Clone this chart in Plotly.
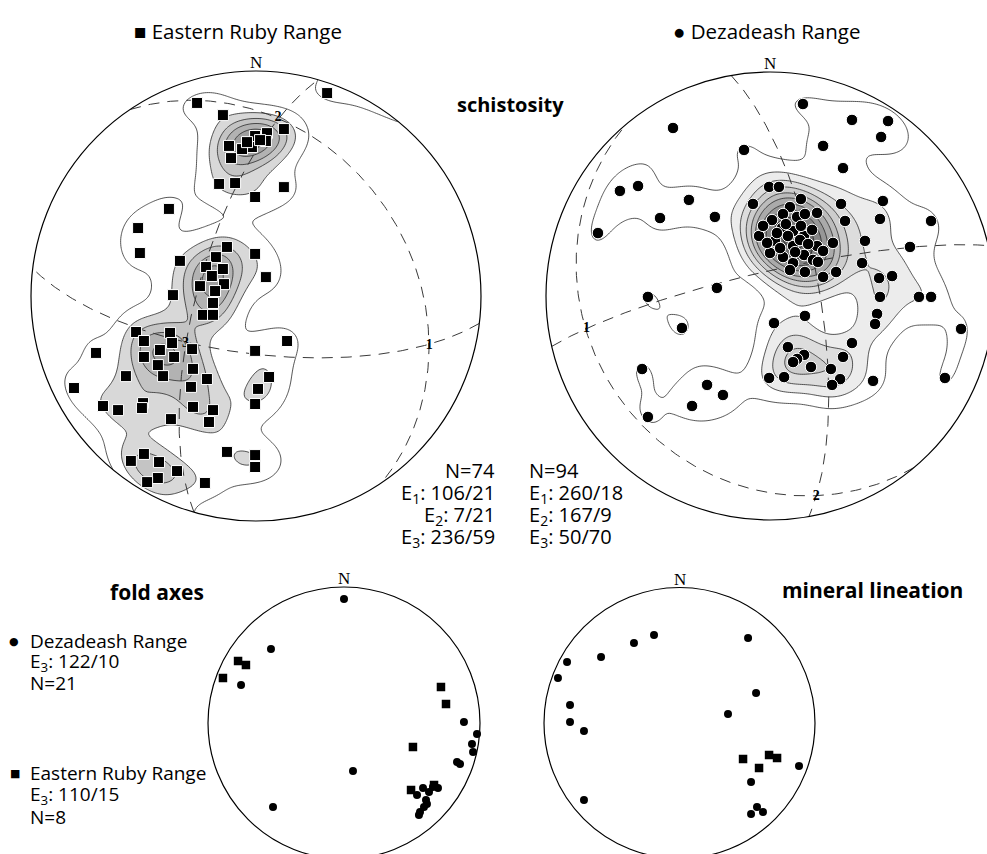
import numpy as np
import plotly.graph_objects as go

W, H = 987, 854

# ---------------------------------------------------------------------------
# Data. Poles / lineations in equal-area (Schmidt) lower-hemisphere coordinates,
# unit primitive radius, x = east, y = north.
# ---------------------------------------------------------------------------
ruby_schist_x = [0.316, -0.262, -0.147, 0.124, 0.049, -0.004, 0.044, -0.018, -0.062, -0.120,
                 -0.111, -0.164, -0.093, -0.004, 0.124, -0.387, -0.524, -0.516, -0.338, -0.129,
                 -0.004, 0.044, -0.178, -0.222, -0.147, -0.196, -0.249, -0.142, -0.369, -0.191,
                 -0.236, -0.191, -0.533, -0.382, -0.498, -0.373, -0.284, -0.711, -0.498, -0.364,
                 -0.436, -0.280, -0.413, -0.578, -0.218, -0.289, -0.809, -0.502, -0.507, -0.680,
                 -0.613, -0.280, -0.191, -0.209, -0.378, -0.004, 0.138, 0.058, 0.009, -0.004,
                 -0.498, -0.556, -0.431, -0.351, -0.436, -0.484, -0.129, -0.004, -0.004, -0.227,
                 0.018, -0.040, -0.182, -0.427]
ruby_schist_y = [0.902, 0.858, 0.804, 0.742, 0.724, 0.711, 0.689, 0.662, 0.653, 0.667,
                 0.613, 0.498, 0.502, 0.440, 0.484, 0.387, 0.302, 0.191, 0.156, 0.218,
                 0.187, 0.084, 0.173, 0.129, 0.120, 0.089, 0.044, 0.053, 0.004, -0.031,
                 -0.084, -0.084, -0.160, -0.164, -0.200, -0.209, -0.236, -0.253, -0.271, -0.271,
                 -0.307, -0.324, -0.356, -0.356, -0.369, -0.404, -0.409, -0.476, -0.498, -0.489,
                 -0.507, -0.493, -0.507, -0.560, -0.547, -0.244, -0.200, -0.360, -0.413, -0.480,
                 -0.702, -0.733, -0.738, -0.778, -0.809, -0.827, -0.693, -0.707, -0.760, -0.831,
                 0.693, 0.684, 0.022, -0.240]

dez_schist_x = [0.147, -0.433, 0.366, 0.527, 0.496, -0.116, 0.237, 0.326, -0.589, -0.670,
                -0.362, -0.768, -0.491, -0.246, -0.004, 0.040, -0.076, 0.138, 0.089, 0.058,
                0.121, 0.156, 0.210, 0.317, 0.335, 0.504, 0.491, 0.719, 0.054, 0.103,
                0.152, -0.049, 0.022, 0.281, 0.424, 0.103, 0.210, 0.237, 0.000, 0.058,
                0.103, 0.152, 0.192, 0.156, 0.237, 0.295, 0.625, 0.411, 0.487, 0.545,
                0.491, 0.665, 0.719, -0.237, -0.545, -0.013, 0.018, 0.156, 0.478, 0.469,
                0.853, -0.393, 0.366, 0.080, 0.152, 0.121, 0.103, 0.326, 0.183, 0.272,
                0.313, 0.277, -0.004, 0.063, 0.460, 0.781, -0.571, -0.281, -0.210, -0.348,
                -0.545, 0.071, 0.134, 0.045, 0.188, 0.009, 0.112, 0.170, 0.080, 0.214,
                0.031, 0.138, 0.089, -0.031]
dez_schist_y = [0.857, 0.750, 0.786, 0.781, 0.710, 0.652, 0.670, 0.571, 0.491, 0.469,
                0.429, 0.281, 0.348, 0.353, 0.487, 0.487, 0.411, 0.433, 0.397, 0.366,
                0.353, 0.366, 0.371, 0.411, 0.335, 0.424, 0.344, 0.335, 0.304, 0.290,
                0.268, 0.268, 0.246, 0.237, 0.246, 0.223, 0.223, 0.201, 0.192, 0.174,
                0.147, 0.183, 0.161, 0.107, 0.085, 0.107, 0.219, 0.147, 0.080, 0.089,
                -0.004, -0.004, -0.004, 0.036, -0.004, 0.237, -0.121, -0.089, -0.080, -0.125,
                -0.147, -0.143, -0.210, -0.228, -0.263, -0.281, -0.295, -0.272, -0.317, -0.326,
                -0.371, -0.397, -0.366, -0.362, -0.379, -0.366, -0.326, -0.397, -0.442, -0.491,
                -0.540, 0.321, 0.250, 0.214, 0.295, 0.339, 0.196, 0.232, 0.268, 0.152,
                0.281, 0.313, 0.116, 0.313]

# Eigenvectors of the schistosity poles (trend / plunge, degrees)
ruby_eig_trend = [106, 7, 236]
ruby_eig_plunge = [21, 21, 59]
dez_eig_trend = [260, 167, 50]
dez_eig_plunge = [18, 9, 70]

# Fold axes
fold_dez_x = [0.000, -0.537, -0.757, 0.882, 0.978, 0.941, 0.949, 0.831, 0.853, 0.066,
              -0.522, 0.581, 0.537, 0.625, 0.691, 0.610, 0.588, 0.559, 0.551, 0.654, 0.603]
fold_dez_y = [0.912, 0.544, 0.279, 0.007, -0.081, -0.154, -0.213, -0.287, -0.301, -0.353,
              -0.618, -0.478, -0.529, -0.507, -0.478, -0.596, -0.618, -0.654, -0.676, -0.471, -0.566]
fold_ruby_x = [-0.779, -0.721, -0.890, 0.713, 0.750, 0.507, 0.493, 0.662]
fold_ruby_y = [0.456, 0.426, 0.331, 0.265, 0.140, -0.176, -0.493, -0.456]
fold_dez_e3 = (122, 10)
fold_ruby_e3 = (110, 15)

# Mineral lineation
lin_dez_x = [-0.188, -0.336, -0.579, -0.830, -0.897, -0.808, -0.808, -0.705, -0.705, 0.506,
             0.565, 0.358, 0.882, 0.528, 0.572, 0.616, 0.528]
lin_dez_y = [0.649, 0.590, 0.487, 0.450, 0.332, 0.133, 0.007, -0.059, -0.568, 0.627,
             0.221, 0.066, -0.317, -0.435, -0.620, -0.657, -0.672]
lin_ruby_x = [0.469, 0.661, 0.720, 0.587]
lin_ruby_y = [-0.266, -0.236, -0.258, -0.332]

# ---------------------------------------------------------------------------
# Stereonet helpers
# ---------------------------------------------------------------------------
SQ2 = np.sqrt(2.0)


def to_vec(x, y):
    """Inverse equal-area projection -> unit vectors (east, north, down)."""
    x = np.asarray(x, float)
    y = np.asarray(y, float)
    r = np.clip(np.hypot(x, y), 0.0, 1.0)
    th = 2.0 * np.arcsin(r / SQ2)
    az = np.arctan2(x, y)
    h = np.sin(th)
    return np.stack([h * np.sin(az), h * np.cos(az), np.cos(th)], axis=-1)


def tp_vec(trend, plunge):
    t, p = np.radians(trend), np.radians(plunge)
    return np.array([np.cos(p) * np.sin(t), np.cos(p) * np.cos(t), np.sin(p)])


def project(v):
    v = np.atleast_2d(v)
    e, n, z = v[:, 0], v[:, 1], np.clip(v[:, 2], -1, 1)
    th = np.arccos(z)
    r = SQ2 * np.sin(th / 2.0)
    h = np.hypot(e, n)
    h = np.where(h < 1e-12, 1.0, h)
    return r * e / h, r * n / h


def great_circle(pole):
    p = pole / np.linalg.norm(pole)
    s = np.cross(p, [0, 0, 1.0])
    s /= np.linalg.norm(s)
    d = np.cross(p, s)
    if d[2] < 0:
        d = -d
    phi = np.linspace(0, np.pi, 241)
    v = np.outer(np.cos(phi), s) + np.outer(np.sin(phi), d)
    return project(v)


def density(px, py, grid, k):
    gx, gy = np.meshgrid(grid, grid)
    G = to_vec(gx.ravel(), gy.ravel())
    P = to_vec(px, py)
    c = np.abs(G @ P.T)
    return np.exp(k * (c - 1.0)).sum(axis=1).reshape(gx.shape)


# ---------------------------------------------------------------------------
# Layout of the four nets (pixel centre and radius)
# ---------------------------------------------------------------------------
nets = {
    "ruby": dict(ax=1, cx=256, cy=296, R=225),
    "dez": dict(ax=2, cx=770, cy=296, R=224),
    "fold": dict(ax=3, cx=344, cy=723, R=136),
    "lin": dict(ax=4, cx=679.5, cy=723, R=135.5),
}

layout = dict(width=W, height=H, margin=dict(l=0, r=0, t=0, b=0),
              paper_bgcolor="white", plot_bgcolor="white", showlegend=False)
shapes, annotations, traces = [], [], []

circ_t = np.linspace(0, 2 * np.pi, 361)

for name, n in nets.items():
    ext = 1.04
    cx, cy, R = n["cx"], n["cy"], n["R"]
    x0, x1 = -min(ext, cx / R), min(ext, (W - cx) / R)
    y0, y1 = -min(ext, (H - cy) / R), min(ext, cy / R)
    n["range"] = (x0, x1, y0, y1)
    sfx = "" if n["ax"] == 1 else str(n["ax"])
    n["xa"], n["ya"] = "x" + sfx, "y" + sfx
    layout["xaxis" + sfx] = dict(domain=[(cx + x0 * R) / W, (cx + x1 * R) / W], range=[x0, x1],
                                 visible=False, fixedrange=True, anchor="y" + sfx)
    layout["yaxis" + sfx] = dict(domain=[1 - (cy - y0 * R) / H, 1 - (cy - y1 * R) / H],
                                 range=[y0, y1], visible=False, fixedrange=True, anchor="x" + sfx)


def px2paper(x, y):
    return x / W, 1 - y / H


# ---------------------------------------------------------------------------
# Contoured schistosity nets
# ---------------------------------------------------------------------------
grid = np.linspace(-1.01, 1.01, 231)
contour_sets = [
    ("ruby", ruby_schist_x, ruby_schist_y, 70,
     [1.0, 2.3, 3.5, 4.7, 6.0],
     [None, "#d8d8d8", "#c4c4c4", "#b2b2b2", "#a0a0a0"]),
    ("dez", dez_schist_x, dez_schist_y, 65,
     [1.05, 2.3, 3.6, 5.0, 6.5, 8.0, 10.0, 12.0, 14.5, 17.0],
     [None, "#ececec", "#dddddd", "#cdcdcd", "#bcbcbc", "#aaaaaa", "#979797", "#848484",
      "#717171", "#5e5e5e"]),
]
for name, xs, ys, k, levels, fills in contour_sets:
    n = nets[name]
    D = density(xs, ys, grid, k)
    for lev, col in zip(levels, fills):
        fc = col if col else "rgba(255,255,255,0)"
        traces.append(go.Contour(
            x=grid, y=grid, z=D, xaxis=n["xa"], yaxis=n["ya"],
            contours=dict(start=lev, end=lev, size=1, coloring="fill", showlines=True),
            colorscale=[[0, "rgba(255,255,255,0)"], [1, fc]],
            line=dict(color="#2b2b2b", width=0.8, smoothing=1.0),
            showscale=False, hoverinfo="skip"))

# Great circles normal to each eigenvector, with eigenvector labels
for name, tr, pl in (("ruby", ruby_eig_trend, ruby_eig_plunge), ("dez", dez_eig_trend, dez_eig_plunge)):
    n = nets[name]
    lx, ly = [], []
    for t, p in zip(tr, pl):
        v = tp_vec(t, p)
        gx, gy = great_circle(v)
        traces.append(go.Scatter(x=gx, y=gy, mode="lines", xaxis=n["xa"], yaxis=n["ya"],
                                 line=dict(color="#3a3a3a", width=1, dash="11px,8px"),
                                 hoverinfo="skip"))
        ex, ey = project(v)
        lx.append(ex[0])
        ly.append(ey[0])
    traces.append(go.Scatter(x=lx, y=ly, mode="text", text=["1", "2", "3"],
                             xaxis=n["xa"], yaxis=n["ya"],
                             textfont=dict(family="Liberation Serif", size=14, color="black",
                                           weight="bold"),
                             hoverinfo="skip"))

# Schistosity poles
traces.append(go.Scatter(x=ruby_schist_x, y=ruby_schist_y, mode="markers",
                         xaxis=nets["ruby"]["xa"], yaxis=nets["ruby"]["ya"],
                         marker=dict(symbol="square", size=11, color="black",
                                     line=dict(color="white", width=1)), hoverinfo="skip"))
traces.append(go.Scatter(x=dez_schist_x, y=dez_schist_y, mode="markers",
                         xaxis=nets["dez"]["xa"], yaxis=nets["dez"]["ya"],
                         marker=dict(symbol="circle", size=11.5, color="black",
                                     line=dict(color="white", width=1)), hoverinfo="skip"))

# Fold axes and lineations
for name, cx_, cy_, sx, sy in (("fold", fold_dez_x, fold_dez_y, fold_ruby_x, fold_ruby_y),
                               ("lin", lin_dez_x, lin_dez_y, lin_ruby_x, lin_ruby_y)):
    n = nets[name]
    traces.append(go.Scatter(x=sx, y=sy, mode="markers", xaxis=n["xa"], yaxis=n["ya"],
                             marker=dict(symbol="square", size=8.5, color="black"),
                             hoverinfo="skip"))
    traces.append(go.Scatter(x=cx_, y=cy_, mode="markers", xaxis=n["xa"], yaxis=n["ya"],
                             marker=dict(symbol="circle", size=8, color="black"),
                             hoverinfo="skip"))

# Masks outside the primitive circle, primitive circles and north marks
for name, n in nets.items():
    x0, x1, y0, y1 = n["range"]
    if name in ("ruby", "dez"):
        path = f"M{x0},{y0} L{x1},{y0} L{x1},{y1} L{x0},{y1} Z "
        path += "M" + " L".join(f"{np.cos(t):.5f},{np.sin(t):.5f}" for t in circ_t[:-1]) + " Z"
        shapes.append(dict(type="path", path=path, xref=n["xa"], yref=n["ya"],
                           fillcolor="white", fillrule="evenodd", line=dict(width=0), layer="above"))
    shapes.append(dict(type="circle", xref=n["xa"], yref=n["ya"], x0=-1, y0=-1, x1=1, y1=1,
                       line=dict(color="black", width=1.2), layer="above"))
    ax, ay = px2paper(n["cx"], n["cy"] - n["R"])
    annotations.append(dict(x=ax, y=ay, xref="paper", yref="paper", text="N", showarrow=False,
                            xanchor="center", yanchor="bottom", yshift=-3,
                            font=dict(family="Liberation Serif", size=17, color="black")))

SANS = "Open Sans"


def label(x, y, text, size=18, anchor="left", bold=False, family=SANS):
    px_, py_ = px2paper(x, y)
    annotations.append(dict(x=px_, y=py_, xref="paper", yref="paper", text=text, showarrow=False,
                            xanchor=anchor, yanchor="middle", align=anchor,
                            font=dict(family=family, size=size, color="black",
                                      weight="bold" if bold else "normal")))


# Headers and titles
label(238, 31, "\u25A0 Eastern Ruby Range", size=20.5, anchor="center")
label(766, 31, "\u25CF Dezadeash Range", size=20.5, anchor="center")
label(510, 104, "schistosity", size=20, anchor="center", bold=True)
label(157, 592, "fold axes", size=21, anchor="center", bold=True)
label(872, 590, "mineral lineation", size=21, anchor="center", bold=True)

# Eigenvector summaries for schistosity
ys_stats = [471, 493, 515, 537]
label(497, ys_stats[0], f"N={len(ruby_schist_x)}", size=20, anchor="right")
label(527, ys_stats[0], f"N={len(dez_schist_x)}", size=20, anchor="left")
for i in range(3):
    label(497, ys_stats[i + 1], f"E<sub>{i + 1}</sub>: {ruby_eig_trend[i]}/{ruby_eig_plunge[i]}",
          size=20, anchor="right")
    label(527, ys_stats[i + 1], f"E<sub>{i + 1}</sub>: {dez_eig_trend[i]}/{dez_eig_plunge[i]}",
          size=20, anchor="left")

# Fold-axis legend
label(14, 641, "\u25CF", size=11, anchor="center", family="DejaVu Sans")
label(28, 641, "Dezadeash Range", size=19)
label(28, 662, f"E<sub>3</sub>: {fold_dez_e3[0]}/{fold_dez_e3[1]}", size=19)
label(28, 683, f"N={len(fold_dez_x)}", size=19)
label(15, 773, "\u25A0", size=11, anchor="center", family="DejaVu Sans")
label(28, 773, "Eastern Ruby Range", size=19)
label(28, 795, f"E<sub>3</sub>: {fold_ruby_e3[0]}/{fold_ruby_e3[1]}", size=19)
label(28, 817, f"N={len(fold_ruby_x)}", size=19)

layout["shapes"] = shapes
layout["annotations"] = annotations
fig = go.Figure(data=traces, layout=layout)
fig.write_html("out.html")
